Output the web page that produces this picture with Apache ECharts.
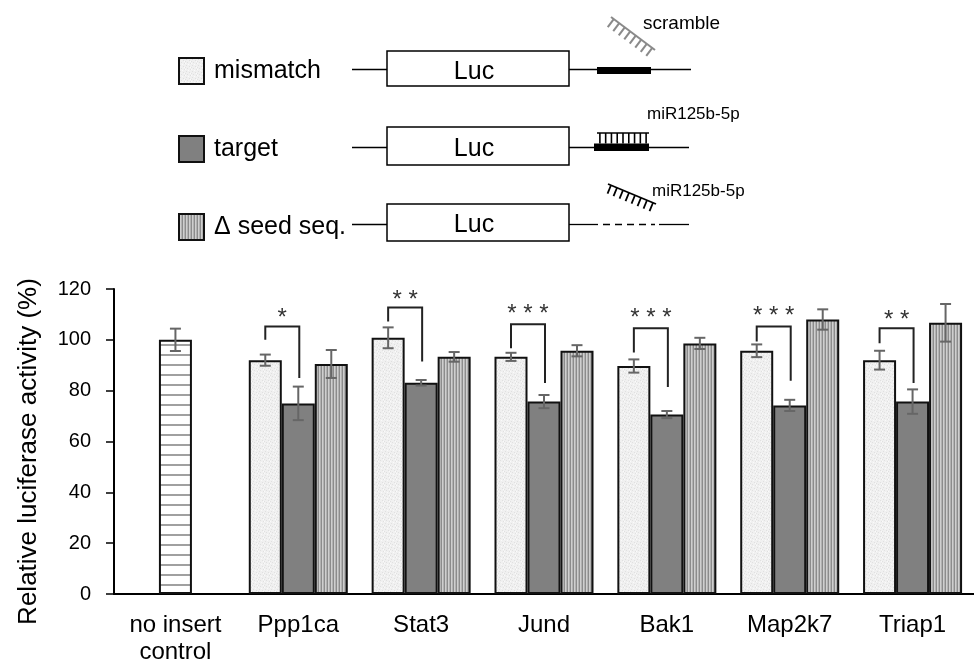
<!DOCTYPE html>
<html>
<head>
<meta charset="utf-8">
<script src="https://cdn.jsdelivr.net/npm/echarts@6/dist/echarts.min.js"></script>
<style>html,body{margin:0;padding:0;background:#fff}#c{width:974px;height:666px}</style>
</head>
<body>
<div id="c"></div>
<script>
// ---- data ----
const categories = ['no insert\ncontrol', 'Ppp1ca', 'Stat3', 'Jund', 'Bak1', 'Map2k7', 'Triap1'];
const controlVals = [100, null, null, null, null, null, null];
const controlErr  = [4.4, null, null, null, null, null, null];
const mismatchVals = [null, 92.0, 100.8, 93.3, 89.7, 95.7, 92.0];
const mismatchErr  = [null, 2.2, 4.1, 1.6, 2.6, 2.5, 3.7];
const targetVals = [null, 75.0, 83.1, 75.7, 70.6, 74.2, 75.7];
const targetErr  = [null, 6.6, 1.1, 2.6, 1.4, 2.2, 4.8];
const seedVals = [null, 90.5, 93.3, 95.7, 98.6, 108.0, 106.7];
const seedErr  = [null, 5.5, 1.9, 2.2, 2.2, 4.0, 7.4];
const sigStars = ['', '*', '* *', '* * *', '* * *', '* * *', '* *'];
const bracketLeftFrom = [null, 100.0, 107.2, 96.7, 95.0, 99.3, 98.7];
const bracketTop      = [null, 105.2, 112.7, 106.1, 104.6, 105.2, 104.6];
const bracketRightTo  = [null, 85.0, 91.5, 83.0, 81.4, 83.9, 83.0];
const starLevel       = [null, 110.5, 117.6, 112.0, 110.5, 111.1, 109.5];
const yTicks = { min: 0, max: 120, interval: 20 };

// ---- patterns ----
function makeCanvas(w, h, draw) {
  const c = document.createElement('canvas'); c.width = w; c.height = h;
  draw(c.getContext('2d')); return c;
}
const hStripe = makeCanvas(4, 10, g => { g.fillStyle = '#fff'; g.fillRect(0,0,4,10); g.fillStyle = '#a0a0a0'; g.fillRect(0,4,4,2); });
const vStripe = makeCanvas(3, 4, g => {
  const cols = ['#8c8c8c', '#cfcfcf', '#b2b2b2'];
  cols.forEach((c, i) => { g.fillStyle = c; g.fillRect(i, 0, 1, 4); });
});
const speckle = makeCanvas(6, 6, g => {
  g.fillStyle = '#f0f0f0'; g.fillRect(0,0,6,6);
  g.fillStyle = '#e0e0e0';
  [[1,1],[4,2],[2,4],[5,5],[0,3]].forEach(p => g.fillRect(p[0], p[1], 1, 1));
  g.fillStyle = '#fafafa';
  [[3,0],[0,5],[5,3]].forEach(p => g.fillRect(p[0], p[1], 1, 1));
});

const FONT = 'Arial, "Liberation Sans", sans-serif';
const BW = 33; // bar width px
const slotOffset = { mismatch: -BW, target: 0, control: 0, seed: BW };

// error bar data rows: [cat, low, high, offsetPx]
const errRows = [];
function addErr(vals, errs, off) {
  vals.forEach((v, i) => { if (v != null && errs[i] != null) errRows.push([i, v - errs[i], v + errs[i], off]); });
}
addErr(controlVals, controlErr, slotOffset.control);
addErr(mismatchVals, mismatchErr, slotOffset.mismatch);
addErr(targetVals, targetErr, slotOffset.target);
addErr(seedVals, seedErr, slotOffset.seed);

const sigRows = [];
categories.forEach((c, i) => {
  if (bracketTop[i] != null) sigRows.push([i, bracketLeftFrom[i], bracketTop[i], bracketRightTo[i], starLevel[i]]);
});

// ---- diagram (schematic, not data) ----
const ink = '#000';
const G = [];
function line(x1,y1,x2,y2,w,color,dash){ G.push({type:'line',shape:{x1,y1,x2,y2},style:{stroke:color||ink,lineWidth:w||1.3,lineDash:dash||null},silent:true}); }
function rect(x,y,w,h,fill,stroke){ G.push({type:'rect',shape:{x,y,width:w,height:h},style:{fill:fill,stroke:stroke||null,lineWidth:1.5},silent:true}); }
function text(x,y,t,size,align){ G.push({type:'text',x,y,style:{text:t,font:size+'px '+FONT,fill:'#000',align:align||'left',verticalAlign:'middle'},silent:true}); }
function comb(x1,y1,x2,y2,n,len,color,w){
  line(x1,y1,x2,y2,w||1.8,color);
  const dx=x2-x1, dy=y2-y1, L=Math.hypot(dx,dy), ux=dx/L, uy=dy/L, px=-uy, py=ux;
  for (let k=0;k<n;k++){ const t=(k+0.5)/n*L; const bx=x1+ux*t, by=y1+uy*t; line(bx,by,bx+px*len,by+py*len,w||1.8,color); }
}
const rowsY = [69.5, 147.5, 224.5];
const boxTop = [51, 127, 204];
const boxH = [35, 38, 37];
const lucY = [72, 149.5, 225.5];
rowsY.forEach((y, r) => {
  line(352, y, 387, y, 1.3);
  rect(387, boxTop[r], 182, boxH[r], '#fff', ink);
  text(474, lucY[r], 'Luc', 25, 'center');
});
// row 1: scramble
line(569, 69.5, 691, 69.5, 1.3);
rect(597, 67, 54, 7, ink);
comb(611, 17, 655, 50, 8, 10, '#8a8a8a', 2);
text(643, 24, 'scramble', 19);
// row 2: target with miR
line(569, 147.5, 689, 147.5, 1.3);
rect(594, 143.5, 55, 7.5, ink);
comb(597, 133, 649, 133, 9, 10.5, ink, 1.6);
text(647, 114, 'miR125b-5p', 17);
// row 3: deleted seed
line(569, 224.5, 598, 224.5, 1.3);
line(603, 224.5, 655, 224.5, 1.3, ink, [7, 5]);
line(659, 224.5, 689, 224.5, 1.3);
comb(608, 184, 656, 204, 8, 9, ink, 1.8);
text(652, 191, 'miR125b-5p', 17);

const chart = echarts.init(document.getElementById('c'));
chart.setOption({
  animation: false,
  backgroundColor: '#fff',
  textStyle: { fontFamily: FONT },
  graphic: G,
  legend: {
    data: ['mismatch', 'target', 'Δ seed seq.'],
    orient: 'vertical', left: 178, top: 57, padding: 0,
    itemWidth: 25, itemHeight: 26, itemGap: 50,
    icon: 'rect',
    selectedMode: false,
    textStyle: { fontSize: 25, color: '#000', fontFamily: FONT, padding: [0, 0, 0, 5] }
  },
  grid: { left: 114, top: 289, width: 862, height: 306 },
  xAxis: {
    type: 'category', data: categories,
    axisLine: { lineStyle: { color: '#000', width: 2 } },
    axisTick: { show: false },
    axisLabel: { color: '#000', fontSize: 24, lineHeight: 27, margin: 18, fontFamily: FONT, interval: 0 }
  },
  yAxis: {
    type: 'value', min: yTicks.min, max: yTicks.max, interval: yTicks.interval,
    name: 'Relative luciferase activity (%)', nameLocation: 'middle', nameGap: 72,
    nameTextStyle: { color: '#000', fontSize: 26, fontFamily: FONT, padding: [0, 20, 0, 0] },
    axisLine: { show: true, lineStyle: { color: '#000', width: 2 } },
    axisTick: { show: true, length: 8, lineStyle: { color: '#000', width: 1.5 } },
    splitLine: { show: false },
    axisLabel: { color: '#000', fontSize: 20, margin: 23, fontFamily: FONT }
  },
  series: [
    { name: 'mismatch', type: 'bar', data: mismatchVals, barWidth: BW, barGap: '0%',
      itemStyle: { color: { image: speckle, repeat: 'repeat' }, borderColor: '#111', borderWidth: 2 } },
    { name: 'target', type: 'bar', stack: 'mid', data: targetVals, barWidth: BW,
      itemStyle: { color: '#808080', borderColor: '#111', borderWidth: 2 } },
    { name: 'no insert control', type: 'bar', stack: 'mid', data: controlVals, barWidth: BW,
      itemStyle: { color: { image: hStripe, repeat: 'repeat' }, borderColor: '#111', borderWidth: 2 } },
    { name: 'Δ seed seq.', type: 'bar', data: seedVals, barWidth: BW,
      itemStyle: { color: { image: vStripe, repeat: 'repeat' }, borderColor: '#111', borderWidth: 2 } },
    { name: 'err', type: 'custom', z: 5, data: errRows,
      renderItem: function (params, api) {
        const lo = api.coord([api.value(0), api.value(1)]);
        const hi = api.coord([api.value(0), api.value(2)]);
        const x = lo[0] + api.value(3), cw = 5.5;
        const st = { stroke: '#666', lineWidth: 2 };
        return { type: 'group', children: [
          { type: 'line', shape: { x1: x, y1: lo[1], x2: x, y2: hi[1] }, style: st },
          { type: 'line', shape: { x1: x - cw, y1: lo[1], x2: x + cw, y2: lo[1] }, style: st },
          { type: 'line', shape: { x1: x - cw, y1: hi[1], x2: x + cw, y2: hi[1] }, style: st }
        ] };
      } },
    { name: 'sig', type: 'custom', z: 6, data: sigRows,
      renderItem: function (params, api) {
        const c = api.value(0);
        const pL = api.coord([c, api.value(1)]);
        const pT = api.coord([c, api.value(2)]);
        const pR = api.coord([c, api.value(3)]);
        const pS = api.coord([c, api.value(4)]);
        const xl = pL[0] + slotOffset.mismatch, xr = pL[0] + slotOffset.target + 1;
        const st = { stroke: '#222', lineWidth: 2, fill: null };
        return { type: 'group', children: [
          { type: 'polyline', shape: { points: [[xl, pL[1]], [xl, pT[1]], [xr, pT[1]], [xr, pR[1]]] }, style: st },
          { type: 'text', x: (xl + xr) / 2, y: pS[1] + 5,
            style: { text: sigStars[c], font: '24px ' + FONT, fill: '#333', align: 'center', verticalAlign: 'middle' } }
        ] };
      } }
  ]
});
</script>
</body>
</html>
